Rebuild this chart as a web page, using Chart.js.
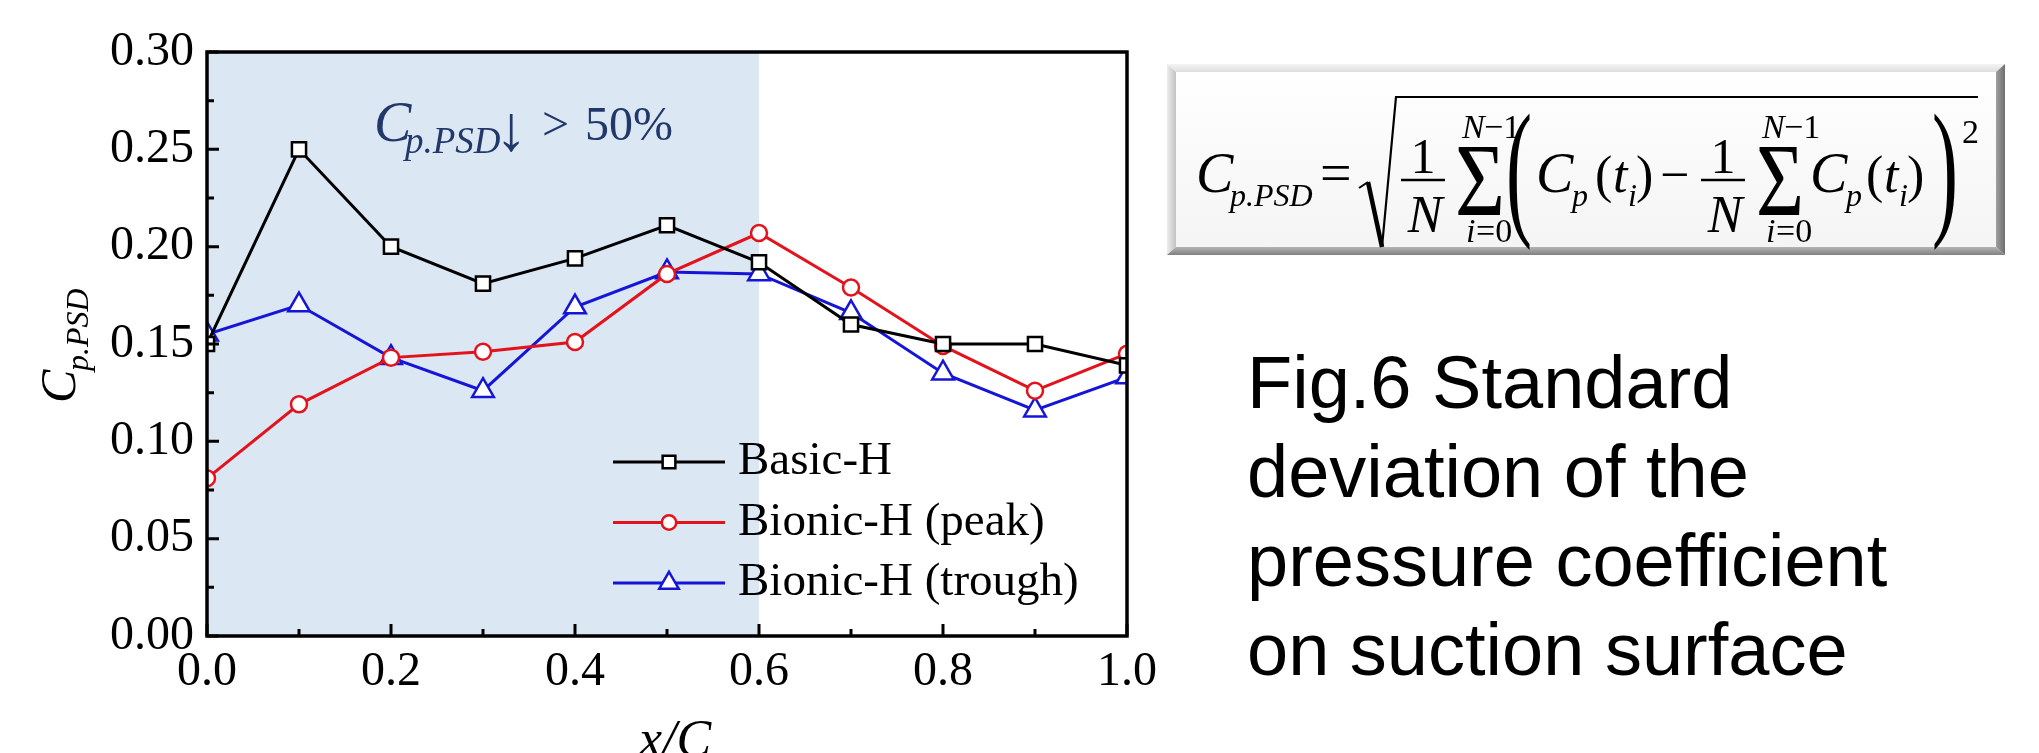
<!DOCTYPE html>
<html>
<head>
<meta charset="utf-8">
<title>Cp.PSD on suction surface</title>
<script src="https://cdn.jsdelivr.net/npm/chart.js@4.4.1/dist/chart.umd.min.js"></script>
<style>
    html, body { margin: 0; padding: 0; background: #fff; overflow: hidden; }
    #page { position: relative; width: 2039px; height: 753px; }
    #plotBox { position: absolute; left: 0; top: 0; width: 1200px; height: 753px; }
    #side { position: absolute; left: 0; top: 0; pointer-events: none; }
    #formula { position: absolute; left: 1150px; top: 0; pointer-events: none; }
</style>
</head>
<body>
<div id="page">
    <div id="plotBox"><canvas id="psdChart"></canvas></div>

    <svg id="side" width="2039" height="753" xmlns="http://www.w3.org/2000/svg">
        <defs>
            <linearGradient id="fillG" x1="0" y1="0" x2="0" y2="1"><stop offset="0" stop-color="#ffffff"/><stop offset="1" stop-color="#f4f4f4"/></linearGradient>
            <linearGradient id="leftG" x1="0" y1="0" x2="1" y2="0"><stop offset="0" stop-color="#ececec"/><stop offset="1" stop-color="#c2c2c2"/></linearGradient>
            <linearGradient id="rightG" x1="0" y1="0" x2="1" y2="0"><stop offset="0" stop-color="#a0a0a0"/><stop offset="1" stop-color="#6e6e6e"/></linearGradient>
            <linearGradient id="topG" x1="0" y1="0" x2="0" y2="1"><stop offset="0" stop-color="#f4f4f4"/><stop offset="1" stop-color="#dedede"/></linearGradient>
            <linearGradient id="botG" x1="0" y1="0" x2="0" y2="1"><stop offset="0" stop-color="#b4b4b4"/><stop offset="1" stop-color="#808080"/></linearGradient>
        </defs>

        <!-- formula box -->
        <rect x="1167" y="64" width="838" height="191" fill="url(#fillG)"/>
        <polygon points="1167,64 2005,64 1996,72 1176,72" fill="url(#topG)"/>
        <polygon points="1167,64 1176,72 1176,247 1167,255" fill="url(#leftG)"/>
        <polygon points="1167,255 1176,247 1996,247 2005,255" fill="url(#botG)"/>
        <polygon points="2005,64 2005,255 1996,247 1996,72" fill="url(#rightG)"/>

        <!-- figure caption -->
        <g style="font-family: 'Liberation Sans', Arial, sans-serif; font-size: 74px;" fill="#000">
            <text x="1247" y="408">Fig.6 Standard</text>
            <text x="1247" y="497">deviation of the</text>
            <text x="1247" y="586">pressure coefficient</text>
            <text x="1247" y="675">on suction surface</text>
        </g>
    </svg>

    <canvas id="formula" width="889" height="300"></canvas>
</div>

<script>
// chordwise positions x/C
const xPos = [0.0, 0.1, 0.2, 0.3, 0.4, 0.5, 0.6, 0.7, 0.8, 0.9, 1.0];

// Cp.PSD values
const basicH   = [0.150, 0.250, 0.200, 0.181, 0.194, 0.211, 0.192, 0.160, 0.150, 0.150, 0.139];
const peakH    = [0.081, 0.119, 0.143, 0.146, 0.151, 0.186, 0.207, 0.179, 0.149, 0.126, 0.145];
const troughH  = [0.155, 0.170, 0.143, 0.126, 0.169, 0.187, 0.186, 0.166, 0.135, 0.116, 0.133];

const seriesNames = ['Basic-H', 'Bionic-H (peak)', 'Bionic-H (trough)'];

// axis ticks
const xTickValues = [0.0, 0.2, 0.4, 0.6, 0.8, 1.0];
const yTickValues = [0.00, 0.05, 0.10, 0.15, 0.20, 0.25, 0.30];

// shaded region (x/C)
const shadeRange = [0.0, 0.6];

const serif = "'Liberation Serif', 'Times New Roman', serif";
Chart.defaults.font.family = serif;
Chart.defaults.color = '#000';

function toPoints(values) {
    return values.map((v, i) => ({x: xPos[i], y: v}));
}

function drawMarker(ctx, style, cx, cy, r) {
    ctx.beginPath();
    if (style === 'rect') {
        const s = r * Math.SQRT1_2;
        ctx.rect(cx - s, cy - s, 2 * s, 2 * s);
    } else if (style === 'triangle') {
        for (let k = 0; k < 3; k++) {
            const a = k * 2 * Math.PI / 3;
            const px = cx + Math.sin(a) * r, py = cy - Math.cos(a) * r;
            if (k === 0) ctx.moveTo(px, py); else ctx.lineTo(px, py);
        }
        ctx.closePath();
    } else {
        ctx.arc(cx, cy, r, 0, Math.PI * 2);
    }
    ctx.fill();
    ctx.stroke();
}

function midpoints(arr) {
    let out = [];
    for (let i = 0; i < arr.length - 1; i++) out.push((arr[i] + arr[i + 1]) / 2);
    return out;
}

// light blue band behind the data
const shadePlugin = {
    id: 'shade',
    beforeDatasetsDraw(chart) {
        const {ctx, chartArea: a, scales} = chart;
        const x0 = scales.x.getPixelForValue(shadeRange[0]);
        const x1 = scales.x.getPixelForValue(shadeRange[1]);
        ctx.save();
        ctx.fillStyle = '#dce7f4';
        ctx.fillRect(x0, a.top, x1 - x0, a.bottom - a.top);
        ctx.restore();
    }
};

// box frame with inward major / minor ticks
const framePlugin = {
    id: 'frame',
    afterDatasetsDraw(chart) {
        const {ctx, chartArea: a, scales: {x, y}} = chart;
        ctx.save();
        ctx.strokeStyle = '#000';
        ctx.lineWidth = 3;
        ctx.beginPath();
        xTickValues.forEach(v => { const p = x.getPixelForValue(v); ctx.moveTo(p, a.bottom); ctx.lineTo(p, a.bottom - 12); });
        midpoints(xTickValues).forEach(v => { const p = x.getPixelForValue(v); ctx.moveTo(p, a.bottom); ctx.lineTo(p, a.bottom - 7); });
        yTickValues.forEach(v => { const p = y.getPixelForValue(v); ctx.moveTo(a.left, p); ctx.lineTo(a.left + 12, p); });
        midpoints(yTickValues).forEach(v => { const p = y.getPixelForValue(v); ctx.moveTo(a.left, p); ctx.lineTo(a.left + 7, p); });
        ctx.stroke();
        ctx.lineWidth = 3.5;
        ctx.strokeRect(a.left, a.top, a.right - a.left, a.bottom - a.top);
        ctx.restore();
    }
};

// legend, axis titles and the annotation
const textPlugin = {
    id: 'texts',
    afterDraw(chart) {
        const {ctx, chartArea: a} = chart;
        ctx.save();

        // legend inside the plot
        const lx = 613, ly = 462, rowH = 60.5, lineLen = 112;
        chart.data.datasets.forEach((ds, i) => {
            const yy = ly + i * rowH;
            ctx.strokeStyle = ds.borderColor;
            ctx.lineWidth = 3;
            ctx.beginPath();
            ctx.moveTo(lx, yy);
            ctx.lineTo(lx + lineLen, yy);
            ctx.stroke();
            ctx.fillStyle = '#fff';
            ctx.lineWidth = 2.5;
            drawMarker(ctx, ds.pointStyle, lx + lineLen / 2, yy, ds.pointRadius * 0.9);
            ctx.fillStyle = '#000';
            ctx.font = '47px ' + serif;
            ctx.textBaseline = 'middle';
            ctx.textAlign = 'left';
            ctx.fillText(ds.label, lx + lineLen + 13, yy);
        });

        // annotation
        ctx.fillStyle = '#22386b';
        ctx.textBaseline = 'alphabetic';
        ctx.font = 'italic 56px ' + serif;
        ctx.fillText('C', 374, 141);
        ctx.font = 'italic 37px ' + serif;
        ctx.fillText('p.PSD', 405, 153);
        ctx.font = '64px ' + serif;
        ctx.fillText('↓', 495, 150);
        ctx.font = '48px ' + serif;
        ctx.fillText('>', 542, 140);
        ctx.fillText('50%', 585, 140);

        // x axis title
        ctx.fillStyle = '#000';
        ctx.font = 'italic 52px ' + serif;
        ctx.textAlign = 'center';
        ctx.fillText('x/C', (a.left + a.right) / 2 + 8, a.bottom + 120);

        // y axis title, rotated
        ctx.translate(75, (a.top + a.bottom) / 2 + 59);
        ctx.rotate(-Math.PI / 2);
        ctx.textAlign = 'left';
        ctx.font = 'italic 50px ' + serif;
        ctx.fillText('C', 0, 0);
        ctx.font = 'italic 32px ' + serif;
        ctx.fillText('p.PSD', 32, 13);
        ctx.restore();
    }
};

const seriesColors = ['#000000', '#e3121b', '#1515d8'];
const seriesStyles = ['rect', 'circle', 'triangle'];
const seriesRadius = [10, 8, 12.5];
const seriesData = [basicH, peakH, troughH];

new Chart(document.getElementById('psdChart'), {
    type: 'line',
    data: {
        datasets: seriesData.map((vals, i) => ({
            label: seriesNames[i],
            data: toPoints(vals),
            borderColor: seriesColors[i],
            borderWidth: 3,
            tension: 0,
            pointStyle: seriesStyles[i],
            pointRadius: seriesRadius[i],
            pointBackgroundColor: '#ffffff',
            pointBorderColor: seriesColors[i],
            pointBorderWidth: 2.5
        }))
    },
    options: {
        responsive: true,
        maintainAspectRatio: false,
        animation: false,
        layout: {padding: {left: 0, right: 73, top: 52, bottom: 0}},
        plugins: {
            legend: {display: false},
            tooltip: {enabled: false}
        },
        scales: {
            x: {
                type: 'linear',
                min: 0,
                max: 1,
                grid: {display: false, drawTicks: false},
                border: {display: false},
                ticks: {
                    font: {size: 48},
                    padding: 8,
                    color: '#000',
                    autoSkip: false,
                    maxRotation: 0,
                    callback: v => v.toFixed(1)
                },
                afterBuildTicks: s => { s.ticks = xTickValues.map(v => ({value: v})); },
                afterFit: s => { s.height = 117; }
            },
            y: {
                min: 0,
                max: 0.3,
                grid: {display: false, drawTicks: false},
                border: {display: false},
                ticks: {
                    font: {size: 48},
                    padding: 13,
                    color: '#000',
                    autoSkip: false,
                    callback: v => v.toFixed(2)
                },
                afterBuildTicks: s => { s.ticks = yTickValues.map(v => ({value: v})); },
                afterFit: s => { s.width = 207; }
            }
        }
    },
    plugins: [shadePlugin, framePlugin, textPlugin]
});

// formula inside the box, drawn in page coordinates
// [text, x, baseline, size, italic, targetWidth, align]
const formulaGlyphs = [
    ['C', 1196, 192, 56, true], ['p.PSD', 1230, 206, 32, true], ['=', 1320, 192, 56, false],
    ['1', 1423, 173, 50, false, 0, 'center'], ['N', 1425, 232, 52, true, 0, 'center'],
    ['Σ', 1455, 215, 104, false, 50], ['N', 1462, 138, 34, true], ['−1', 1484, 138, 34, false],
    ['i', 1466, 242, 34, true], ['=0', 1476, 242, 34, false],
    ['(', 1506, 218, 150, false, 26],
    ['C', 1536, 192, 56, true], ['p', 1572, 206, 32, true],
    ['(', 1595, 192, 52, false], ['t', 1613, 192, 52, true], ['i', 1628, 206, 32, true], [')', 1636, 192, 52, false],
    ['−', 1660, 192, 52, false],
    ['1', 1723, 173, 50, false, 0, 'center'], ['N', 1725, 232, 52, true, 0, 'center'],
    ['Σ', 1756, 215, 104, false, 48], ['N', 1762, 138, 34, true], ['−1', 1784, 138, 34, false],
    ['i', 1766, 242, 34, true], ['=0', 1776, 242, 34, false],
    ['C', 1810, 192, 56, true], ['p', 1846, 206, 32, true],
    ['(', 1866, 192, 52, false], ['t', 1884, 192, 52, true], ['i', 1899, 206, 32, true], [')', 1907, 192, 52, false],
    [')', 1932, 218, 150, false, 26],
    ['2', 1962, 143, 34, false]
];

function drawFormula() {
    const ctx = document.getElementById('formula').getContext('2d');
    ctx.save();
    ctx.translate(-1150, 0);
    ctx.fillStyle = '#000';
    ctx.strokeStyle = '#000';
    ctx.textBaseline = 'alphabetic';
    formulaGlyphs.forEach(g => {
        const [t, x, y, size, italic, w, align] = g;
        ctx.font = (italic ? 'italic ' : '') + size + 'px ' + serif;
        ctx.textAlign = align || 'left';
        if (w) {
            const m = ctx.measureText(t).width;
            ctx.save();
            ctx.translate(x, y);
            ctx.scale(w / m, 1);
            ctx.fillText(t, 0, 0);
            ctx.restore();
        } else {
            ctx.fillText(t, x, y);
        }
    });
    // fraction bars
    ctx.lineWidth = 2.4;
    ctx.beginPath();
    ctx.moveTo(1401, 180); ctx.lineTo(1445, 180);
    ctx.moveTo(1701, 180); ctx.lineTo(1745, 180);
    ctx.stroke();
    // radical sign
    ctx.lineWidth = 2;
    ctx.beginPath(); ctx.moveTo(1359, 188); ctx.lineTo(1368, 182); ctx.stroke();
    ctx.lineWidth = 4.5;
    ctx.beginPath(); ctx.moveTo(1368, 182); ctx.lineTo(1382, 247); ctx.stroke();
    ctx.lineWidth = 2.2;
    ctx.beginPath(); ctx.moveTo(1382, 247); ctx.lineTo(1396, 97); ctx.lineTo(1978, 97); ctx.stroke();
    ctx.restore();
}
drawFormula();
</script>
</body>
</html>
